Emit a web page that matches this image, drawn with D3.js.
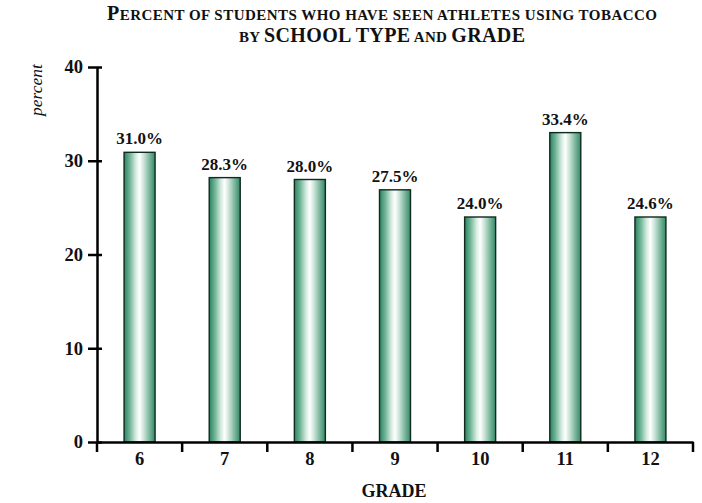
<!DOCTYPE html>
<html>
<head>
<meta charset="utf-8">
<script src="https://cdn.jsdelivr.net/npm/d3@7"></script>
<style>
  html, body { margin: 0; padding: 0; background: #fff; }
  svg { display: block; }
  text { font-family: "Liberation Serif", "DejaVu Serif", serif; fill: #111; }
</style>
</head>
<body>
<svg id="chart" width="702" height="503"></svg>
<script>
// ---- data ----
const grades = ["6", "7", "8", "9", "10", "11", "12"];
const barValues = [30.9, 28.2, 28.0, 26.9, 24.0, 33.0, 24.0];   // bar heights as drawn
const barLabels = ["31.0%", "28.3%", "28.0%", "27.5%", "24.0%", "33.4%", "24.6%"];
const yTicks = [0, 10, 20, 30, 40];
// title pieces: [text, isFullCaps]
const titleLine1 = [["P", true], ["ERCENT OF STUDENTS WHO HAVE SEEN ATHLETES USING TOBACCO", false]];
const titleLine2 = [["BY ", false], ["SCHOOL TYPE", true], [" AND ", false], ["GRADE", true]];
const xTitle = "GRADE";
const yTitle = "percent";

// ---- layout ----
const svg = d3.select("#chart");
const x = d3.scaleBand().domain(grades).range([97, 693]).padding(0);
const y = d3.scaleLinear().domain([0, 40]).range([442, 67]);
const barW = 31;

// gradient
const defs = svg.append("defs");
const grad = defs.append("linearGradient").attr("id", "barGrad")
  .attr("x1", "0%").attr("x2", "100%").attr("y1", "0%").attr("y2", "0%");
[[0, "#2c8262"], [0.18, "#6db395"], [0.38, "#d6ebe1"], [0.5, "#ffffff"],
 [0.64, "#c8e3d6"], [0.85, "#6fae92"], [1, "#358769"]].forEach(([o, c]) =>
  grad.append("stop").attr("offset", o).attr("stop-color", c));

// title
function titleText(parts, yPos, len) {
  const t = svg.append("text")
    .attr("x", 382).attr("y", yPos).attr("text-anchor", "middle")
    .attr("font-weight", "bold")
    .attr("textLength", len).attr("lengthAdjust", "spacing");
  parts.forEach(([s, big]) => t.append("tspan").attr("font-size", big ? 20 : 15).text(s));
}
titleText(titleLine1, 19.5, 550);
titleText(titleLine2, 42, 286);

// bars
svg.append("g").selectAll("rect").data(grades).join("rect")
  .attr("x", d => x(d) + x.bandwidth() / 2 - barW / 2)
  .attr("y", (d, i) => y(barValues[i]))
  .attr("width", barW)
  .attr("height", (d, i) => y(0) - y(barValues[i]))
  .attr("fill", "url(#barGrad)")
  .attr("stroke", "#0f2a1f").attr("stroke-width", 1.4);

// bar labels
svg.append("g").selectAll("text").data(grades).join("text")
  .attr("x", d => x(d) + x.bandwidth() / 2)
  .attr("y", (d, i) => y(barValues[i]) - 8)
  .attr("text-anchor", "middle")
  .attr("font-size", 17).attr("font-weight", "bold")
  .text((d, i) => barLabels[i]);

// y axis
const yAxis = svg.append("g").attr("transform", "translate(97,0)")
  .call(d3.axisLeft(y).tickValues(yTicks).tickSize(9).tickSizeOuter(0).tickPadding(5));
yAxis.select(".domain").attr("stroke", "#000").attr("stroke-width", 2.5);
yAxis.selectAll(".tick line").attr("x1", 5).attr("x2", -9)
  .attr("stroke", "#000").attr("stroke-width", 2.5);
yAxis.selectAll(".tick text").attr("font-size", 18.5).attr("font-weight", "bold")
  .attr("font-family", "Liberation Serif").attr("fill", "#111");

// x axis
const xAxis = svg.append("g").attr("transform", "translate(0,442)")
  .call(d3.axisBottom(x).tickSize(0).tickSizeOuter(0).tickPadding(10));
xAxis.select(".domain").attr("stroke", "#000").attr("stroke-width", 2.5);
xAxis.selectAll(".tick text").attr("font-size", 18.5).attr("font-weight", "bold")
  .attr("font-family", "Liberation Serif").attr("fill", "#111");
// boundary ticks
const bounds = grades.map(g => x(g)).concat([x.range()[1]]);
xAxis.append("g").selectAll("line").data(bounds).join("line")
  .attr("x1", d => d).attr("x2", d => d).attr("y1", 0).attr("y2", 10)
  .attr("stroke", "#000").attr("stroke-width", 2.5);

// axis titles
svg.append("text").attr("x", 394).attr("y", 497).attr("text-anchor", "middle")
  .attr("font-size", 18).attr("font-weight", "bold").text(xTitle);
svg.append("text")
  .attr("transform", "translate(42,90) rotate(-90)")
  .attr("text-anchor", "middle")
  .attr("font-size", 17.5).attr("font-style", "italic").text(yTitle);
</script>
</body>
</html>
